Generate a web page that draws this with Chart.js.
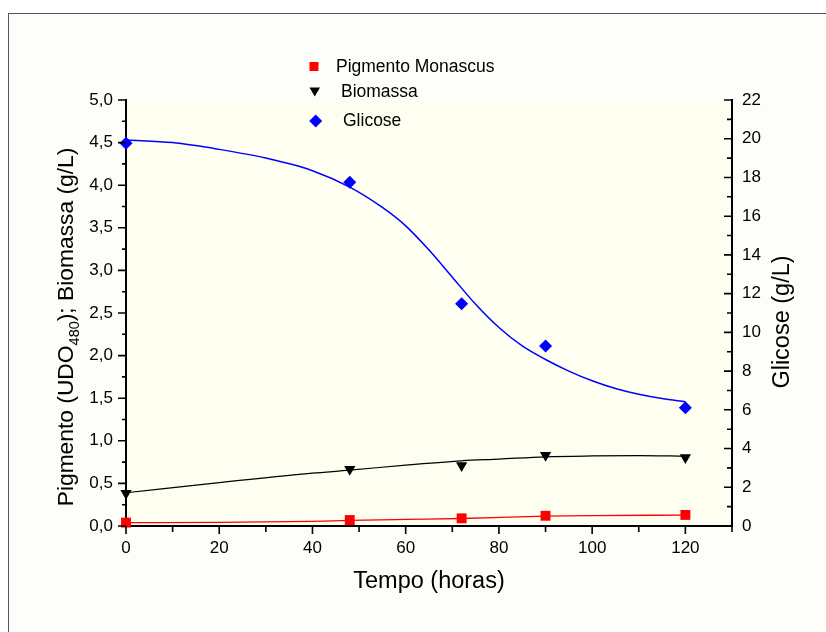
<!DOCTYPE html>
<html><head><meta charset="utf-8">
<script src="https://cdn.jsdelivr.net/npm/chart.js@4"></script>
<style>html,body{margin:0;padding:0;background:#fff}#wrap{width:826px;height:632px}</style>
</head><body><div id="wrap"><canvas id="c" width="826" height="632"></canvas></div>
<script>
// ---- measured points ----
const hours = [0, 48, 72, 90, 120];
const pigmento = [0.04, 0.07, 0.09, 0.12, 0.13];
const biomassa = [0.385, 0.665, 0.71, 0.83, 0.805];
const glicose = [19.77, 17.75, 11.48, 9.3, 6.11];
// ---- fitted curves ----
const fitHoursG = [0, 10, 20, 30, 40, 48, 55, 60, 65, 70, 75, 80, 85, 90, 95, 100, 105, 110, 115, 120];
const fitGlicose = [19.94, 19.8, 19.45, 19.0, 18.35, 17.5, 16.45, 15.5, 14.25, 12.85, 11.45, 10.25, 9.3, 8.6, 8.0, 7.5, 7.1, 6.8, 6.58, 6.42];
const fitHoursB = [0, 20, 40, 48, 60, 72, 80, 90, 100, 110, 120];
const fitBiomassa = [0.39, 0.51, 0.62, 0.655, 0.715, 0.765, 0.785, 0.812, 0.822, 0.826, 0.82];
const fitHoursP = [0, 20, 40, 48, 60, 72, 90, 100, 120];
const fitPigmento = [0.04, 0.043, 0.055, 0.065, 0.077, 0.088, 0.115, 0.122, 0.128];
// ---- axes ----
const xTicks = [0, 20, 40, 60, 80, 100, 120];
const xMax = 130;
const yLeftMax = 5;
const yRightMax = 22;
const legendLabels = ['Pigmento Monascus', 'Biomassa', 'Glicose'];

const FONT = "'Liberation Sans', Arial, sans-serif";
const pts = (xs, ys) => ys.map((v, i) => ({x: xs[i], y: v}));

const bgPlugin = {
  id: 'bg',
  beforeDraw(chart) {
    const {ctx, chartArea: a} = chart;
    ctx.save();
    ctx.fillStyle = '#fdfdf9';
    ctx.fillRect(8, 13, 826, 632);
    ctx.strokeStyle = '#555';
    ctx.lineWidth = 1;
    ctx.strokeRect(8.5, 13.5, 900, 900);
    ctx.fillStyle = '#fefef1';
    ctx.fillRect(a.left, a.top, a.right - a.left, a.bottom - a.top);
    ctx.restore();
  }
};

const decoPlugin = {
  id: 'deco',
  afterDraw(chart) {
    const {ctx, chartArea: a, scales} = chart;
    const x = scales.x, y = scales.y, y2 = scales.y2;
    ctx.save();
    ctx.strokeStyle = '#000';
    ctx.lineWidth = 1.6;
    ctx.beginPath();
    for (let v = 0; v <= xMax; v += 10) {
      const px = x.getPixelForValue(v);
      const len = v % 20 === 0 ? 8 : 6;
      ctx.moveTo(px, a.bottom); ctx.lineTo(px, a.bottom + len);
    }
    for (let i = 0; i <= yLeftMax * 4; i++) {
      const py = y.getPixelForValue(i * 0.25);
      const len = i % 2 === 0 ? 8 : 4;
      ctx.moveTo(a.left, py); ctx.lineTo(a.left - len, py);
    }
    for (let v = 0; v <= yRightMax; v++) {
      const py = y2.getPixelForValue(v);
      const len = v % 2 === 0 ? 8 : 5;
      ctx.moveTo(a.right, py); ctx.lineTo(a.right - len, py);
    }
    ctx.stroke();

    // axis titles
    ctx.fillStyle = '#000';
    ctx.textBaseline = 'middle';
    ctx.textAlign = 'center';
    ctx.font = '23.5px ' + FONT;
    ctx.fillText('Tempo (horas)', 429, 582);

    ctx.save();
    ctx.translate(783, 322);
    ctx.rotate(-Math.PI / 2);
    ctx.fillText('Glicose (g/L)', 0, 0);
    ctx.restore();

    // left title with subscript
    ctx.save();
    ctx.translate(67, 327);
    ctx.rotate(-Math.PI / 2);
    ctx.textAlign = 'left';
    const big = '22.8px ' + FONT, small = '14.5px ' + FONT;
    const p1 = 'Pigmento (UDO', p2 = '480', p3 = '); Biomassa (g/L)';
    ctx.font = big; const w1 = ctx.measureText(p1).width, w3 = ctx.measureText(p3).width;
    ctx.font = small; const w2 = ctx.measureText(p2).width;
    let sx = -(w1 + w2 + w3) / 2;
    ctx.font = big; ctx.fillText(p1, sx, 0); sx += w1;
    ctx.font = small; ctx.fillText(p2, sx, 8); sx += w2;
    ctx.font = big; ctx.fillText(p3, sx, 0);
    ctx.restore();

    // legend
    ctx.font = '17.5px ' + FONT;
    ctx.textAlign = 'left';
    ctx.fillStyle = '#ff0000';
    ctx.fillRect(309.5, 62, 9, 9);
    ctx.fillStyle = '#000';
    ctx.beginPath();
    ctx.moveTo(309.5, 87.5); ctx.lineTo(320, 87.5); ctx.lineTo(314.75, 96.5); ctx.closePath(); ctx.fill();
    ctx.fillStyle = '#0000ff';
    ctx.beginPath();
    ctx.moveTo(315.7, 114.5); ctx.lineTo(322.2, 121); ctx.lineTo(315.7, 127.5); ctx.lineTo(309.2, 121); ctx.closePath(); ctx.fill();
    ctx.fillStyle = '#000';
    ctx.fillText(legendLabels[0], 336, 67);
    ctx.fillText(legendLabels[1], 341, 92);
    ctx.fillText(legendLabels[2], 343, 121);
    ctx.restore();
  }
};

const commaFmt = v => v.toFixed(1).replace('.', ',');

new Chart(document.getElementById('c'), {
  type: 'line',
  data: {
    datasets: [
      {data: pts(fitHoursG, fitGlicose), yAxisID: 'y2', borderColor: '#0000ff', borderWidth: 1.5, pointRadius: 0, cubicInterpolationMode: 'monotone', fill: false},
      {data: pts(fitHoursB, fitBiomassa), yAxisID: 'y', borderColor: '#000000', borderWidth: 1.2, pointRadius: 0, cubicInterpolationMode: 'monotone', fill: false},
      {data: pts(fitHoursP, fitPigmento), yAxisID: 'y', borderColor: '#ff0000', borderWidth: 1.3, pointRadius: 0, cubicInterpolationMode: 'monotone', fill: false},
      {data: pts(hours, glicose), yAxisID: 'y2', showLine: false, pointStyle: 'rectRot', pointRadius: 6.5, backgroundColor: '#0000ff', borderColor: '#0000ff', borderWidth: 0},
      {data: pts(hours, biomassa), yAxisID: 'y', showLine: false, pointStyle: 'triangle', rotation: 180, pointRadius: 6.5, backgroundColor: '#000', borderColor: '#000', borderWidth: 0},
      {data: pts(hours, pigmento), yAxisID: 'y', showLine: false, pointStyle: 'rect', pointRadius: 7, backgroundColor: '#ff0000', borderColor: '#ff0000', borderWidth: 0}
    ]
  },
  options: {
    responsive: false,
    animation: false,
    clip: false,
    layout: {padding: {top: 100, left: 0, right: 0, bottom: 0}},
    plugins: {legend: {display: false}, tooltip: {enabled: false}},
    scales: {
      x: {
        type: 'linear', min: 0, max: xMax,
        afterFit(s) { s.height = 106; },
        afterBuildTicks(s) { s.ticks = xTicks.map(v => ({value: v})); },
        ticks: {autoSkip: false, maxRotation: 0, padding: 12, color: '#000', font: {size: 17, family: FONT}},
        grid: {display: false, drawTicks: false},
        border: {display: true, color: '#000', width: 2}
      },
      y: {
        position: 'left', min: 0, max: yLeftMax,
        afterFit(s) { s.width = 126; },
        ticks: {stepSize: 0.5, padding: 13, color: '#000', font: {size: 17, family: FONT}, callback: v => commaFmt(v)},
        grid: {display: false, drawTicks: false},
        border: {display: true, color: '#000', width: 2}
      },
      y2: {
        position: 'right', min: 0, max: yRightMax,
        afterFit(s) { s.width = 94; },
        ticks: {stepSize: 2, padding: 10, color: '#000', font: {size: 17, family: FONT}},
        grid: {display: false, drawTicks: false},
        border: {display: true, color: '#000', width: 2}
      }
    }
  },
  plugins: [bgPlugin, decoPlugin]
});
</script>
</body></html>
